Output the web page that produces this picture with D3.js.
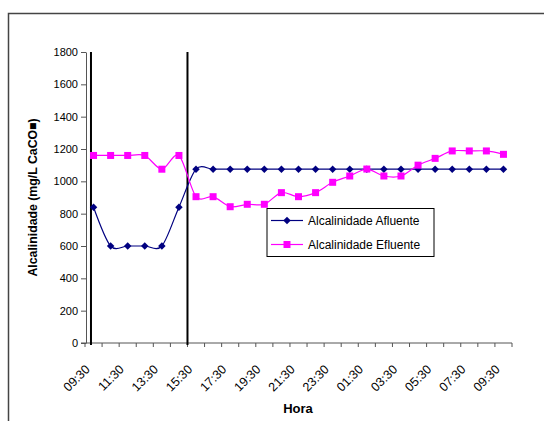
<!DOCTYPE html>
<meta charset="utf-8">
<style>
body { margin: 0; }
text { font-family: "Liberation Sans", Arial, sans-serif; }
</style>
<svg width="544" height="421"></svg>
<script src="https://d3js.org/d3.v7.min.js"></script>
<script>

// data
var horas = ["09:30","10:30","11:30","12:30","13:30","14:30","15:30","16:30","17:30","18:30",
             "19:30","20:30","21:30","22:30","23:30","00:30","01:30","02:30","03:30","04:30",
             "05:30","06:30","07:30","08:30","09:30"];
var afluente = [840,600,600,600,600,840,1075,1075,1075,1075,1075,1075,1075,1075,1075,1075,
                1075,1075,1075,1075,1075,1075,1075,1075,1075];
var efluente = [1160,1160,1160,1160,1075,1160,905,905,843,858,858,930,905,930,994,1033,
                1076,1033,1033,1100,1142,1188,1188,1188,1167];
var yTicks = [0,200,400,600,800,1000,1200,1400,1600,1800];
// vertical marker lines, in category units
var marcos = [0.35, 6];

var svg = d3.select("svg");

// outer frame (runs off the picture)
svg.append("rect")
    .attr("x", 8.5).attr("y", 13.5)
    .attr("width", 600).attr("height", 500)
    .attr("fill", "none")
    .attr("stroke", "#444")
    .attr("stroke-width", 1.5);

var x = d3.scaleLinear().domain([0, horas.length]).range([85, 512]);
var y = d3.scaleLinear().domain([0, 1800]).range([343, 52]);

// y axis
var ya = svg.append("g")
    .attr("transform", "translate(86,0)")
    .call(d3.axisLeft(y).tickValues(yTicks).tickFormat(d3.format("d"))
      .tickSize(5).tickPadding(3).tickSizeOuter(0));
ya.selectAll("text").attr("font-size", 11).attr("fill", "#000").attr("font-family", "Liberation Sans, Arial, sans-serif");
ya.selectAll("line, path").attr("stroke", "#555");

// x axis
var xa = svg.append("g")
    .attr("transform", "translate(0,343)");
xa.append("line")
    .attr("x1", x(0) - 4).attr("x2", x(horas.length))
    .attr("stroke", "#555");
xa.selectAll(".tk")
  .data(d3.range(horas.length + 1))
  .enter().append("line")
    .attr("x1", function(d) { return x(d); })
    .attr("x2", function(d) { return x(d); })
    .attr("y1", 0).attr("y2", 4)
    .attr("stroke", "#555");
xa.selectAll(".lb")
  .data(horas.map(function(h, i) { return {h: h, i: i}; }).filter(function(d) { return d.i % 2 == 0; }))
  .enter().append("text")
    .attr("transform", function(d) { return "translate(" + (x(d.i + 0.5) - 6) + ",24) rotate(-45)"; })
    .attr("text-anchor", "end")
    .attr("dy", "0.35em")
    .attr("font-size", 12.5)
    .text(function(d) { return d.h; });

// axis titles
svg.append("text")
    .attr("transform", "translate(37,197.5) rotate(-90)")
    .attr("text-anchor", "middle")
    .attr("font-size", 12.3)
    .attr("font-weight", "bold")
    .text("Alcalinidade (mg/L CaCO\u25A0)");

svg.append("text")
    .attr("x", 298).attr("y", 413)
    .attr("text-anchor", "middle")
    .attr("font-size", 13)
    .attr("font-weight", "bold")
    .text("Hora");

// marker lines
svg.selectAll(".marco")
  .data(marcos)
  .enter().append("line")
    .attr("x1", function(d) { return x(d); })
    .attr("x2", function(d) { return x(d); })
    .attr("y1", y(1800)).attr("y2", y(0) + 2)
    .attr("stroke", "#000")
    .attr("stroke-width", 2);

var line = d3.line()
    .x(function(d, i) { return x(i + 0.5); })
    .y(function(d) { return y(d); })
    .curve(d3.curveCardinal.tension(0.1));

svg.append("path")
    .datum(afluente)
    .attr("d", line)
    .attr("fill", "none")
    .attr("stroke", "#000080")
    .attr("stroke-width", 1.2);

svg.append("path")
    .datum(efluente)
    .attr("d", line)
    .attr("fill", "none")
    .attr("stroke", "#FF00FF")
    .attr("stroke-width", 1.2);

var losango = d3.symbol().type(d3.symbolSquare).size(28);

svg.selectAll(".af")
  .data(afluente)
  .enter().append("path")
    .attr("d", losango)
    .attr("transform", function(d, i) { return "translate(" + x(i + 0.5) + "," + y(d) + ") rotate(45)"; })
    .attr("fill", "#000080");

svg.selectAll(".ef")
  .data(efluente)
  .enter().append("rect")
    .attr("x", function(d, i) { return x(i + 0.5) - 3.5; })
    .attr("y", function(d) { return y(d) - 3.5; })
    .attr("width", 7).attr("height", 7)
    .attr("fill", "#FF00FF");

// legend
var lg = svg.append("g").attr("transform", "translate(267,208.5)");
lg.append("rect")
    .attr("width", 167).attr("height", 48)
    .attr("fill", "#fff")
    .attr("stroke", "#000");
var series = [
  {nome: "Alcalinidade Afluente", cor: "#000080", forma: "d"},
  {nome: "Alcalinidade Efluente", cor: "#FF00FF", forma: "s"}
];
var it = lg.selectAll(".it")
  .data(series)
  .enter().append("g")
    .attr("transform", function(d, i) { return "translate(0," + (12 + i * 24) + ")"; });
it.append("line")
    .attr("x1", 4).attr("x2", 36)
    .attr("stroke", function(d) { return d.cor; })
    .attr("stroke-width", 1.2);
it.append("path")
    .attr("d", function(d) { return d.forma == "d" ? losango() : d3.symbol().type(d3.symbolSquare).size(49)(); })
    .attr("transform", function(d) { return "translate(20,0)" + (d.forma == "d" ? " rotate(45)" : ""); })
    .attr("fill", function(d) { return d.cor; });
it.append("text")
    .attr("x", 41)
    .attr("dy", "0.35em")
    .attr("font-size", 12)
    .text(function(d) { return d.nome; });

</script>
